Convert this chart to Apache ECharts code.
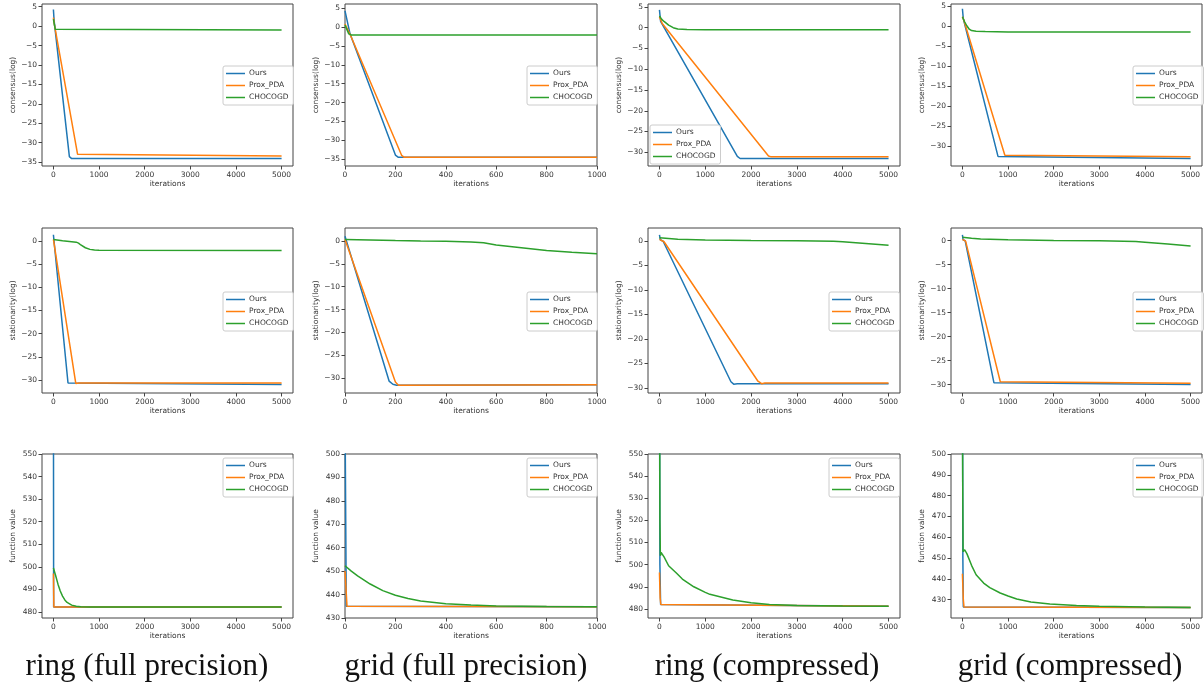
<!DOCTYPE html>
<html>
<head>
<meta charset="utf-8">
<script src="https://cdn.jsdelivr.net/npm/echarts@6/dist/echarts.min.js"></script>
<style>
html, body { margin: 0; padding: 0; background: #fff; }
#chart { width: 1204px; height: 685px; }
</style>
</head>
<body>
<div id="chart"></div>
<script>
// names of the three methods
var methods = ['Ours', 'Prox_PDA', 'CHOCOGD'];
var colors = ['#1f77b4', '#ff7f0e', '#2ca02c'];
var captions = ['ring (full precision)', 'grid (full precision)', 'ring (compressed)', 'grid (compressed)'];

// tick labels
var xTicksLong = [0, 1000, 2000, 3000, 4000, 5000];
var xTicksShort = [0, 200, 400, 600, 800, 1000];
var consTicks35 = [5, 0, -5, -10, -15, -20, -25, -30, -35];
var consTicks30 = [5, 0, -5, -10, -15, -20, -25, -30];
var statTicks = [0, -5, -10, -15, -20, -25, -30];
var fvTicks550 = [480, 490, 500, 510, 520, 530, 540, 550];
var fvTicks500 = [430, 440, 450, 460, 470, 480, 490, 500];

/* consensus(log) - [iteration, value] */
var ringFullConsOurs = [[0, 4.3], [15, 1.5], [350, -33.6], [370, -34.0], [400, -34.1], [5000, -34.1]];
var ringFullConsProx = [[0, 2.2], [20, 0.5], [530, -33.0], [560, -33.4], [5000, -33.4]];
var ringFullConsChoco = [[0, 1.8], [40, -0.8], [60, -1.0], [5000, -1.0]];

var gridFullConsOurs = [[0, 4.3], [20, -1.8], [200, -33.9], [212, -34.5], [1000, -34.5]];
var gridFullConsProx = [[0, 0.8], [20, -1.9], [225, -34.0], [235, -34.5], [1000, -34.5]];
var gridFullConsChoco = [[0, 0.5], [15, -1.8], [25, -2.1], [1000, -2.1]];

var ringCompConsOurs = [[0, 4.3], [25, 1.5], [1700, -31.0], [1760, -31.5], [5000, -31.5]];
var ringCompConsProx = [[0, 2.6], [60, 1.0], [2380, -30.9], [2440, -31.1], [5000, -31.1]];
var ringCompConsChoco = [[0, 2.8], [50, 2.0], [100, 1.5], [200, 0.6], [300, 0.0], [400, -0.3], [600, -0.45], [1000, -0.5], [5000, -0.5]];

var gridCompConsOurs = [[0, 4.3], [20, 1.8], [780, -32.6], [810, -33.1], [5000, -33.1]];
var gridCompConsProx = [[0, 2.3], [30, 1.5], [930, -32.3], [960, -32.7], [5000, -32.7]];
var gridCompConsChoco = [[0, 2.3], [50, 1.0], [100, 0.0], [150, -0.8], [200, -1.15], [300, -1.3], [500, -1.4], [1000, -1.5], [5000, -1.5]];

/* stationarity(log) */
var ringFullStatOurs = [[0, 1.3], [320, -30.6], [340, -30.9], [5000, -30.9]];
var ringFullStatProx = [[0, 0.3], [490, -30.7], [510, -30.9], [560, -30.6], [5000, -30.6]];
var ringFullStatChoco = [[0, 0.3], [200, 0.0], [500, -0.3], [550, -0.5], [600, -0.9], [700, -1.5], [800, -1.85], [900, -2.0], [1000, -2.05], [5000, -2.1]];

var gridFullStatOurs = [[0, 1.0], [175, -30.6], [190, -31.3], [205, -31.5], [1000, -31.4]];
var gridFullStatProx = [[0, 0.3], [200, -30.8], [212, -31.5], [1000, -31.4]];
var gridFullStatChoco = [[0, 0.3], [100, 0.2], [200, 0.05], [300, -0.05], [400, -0.1], [500, -0.25], [550, -0.4], [600, -0.9], [700, -1.5], [800, -2.1], [900, -2.5], [1000, -2.8]];

var ringCompStatOurs = [[0, 1.2], [20, 0.2], [40, 0.0], [80, -0.1], [1560, -28.7], [1620, -29.2], [1700, -29.1], [5000, -29.1]];
var ringCompStatProx = [[0, 0.3], [20, -0.1], [100, -0.2], [2150, -28.6], [2230, -29.1], [2300, -28.95], [5000, -28.95]];
var ringCompStatChoco = [[0, 0.6], [200, 0.45], [400, 0.3], [1000, 0.15], [2000, 0.05], [3000, 0.0], [3800, -0.1], [4000, -0.2], [4500, -0.55], [5000, -0.9]];

var gridCompStatOurs = [[0, 1.2], [15, 0.2], [60, 0.0], [690, -29.6], [720, -30.0], [5000, -30.0]];
var gridCompStatProx = [[0, 0.3], [20, 0.0], [70, -0.1], [830, -29.4], [860, -29.7], [5000, -29.7]];
var gridCompStatChoco = [[0, 0.7], [200, 0.5], [400, 0.35], [1000, 0.2], [2000, 0.05], [3000, 0.0], [3800, -0.15], [4000, -0.3], [4500, -0.7], [5000, -1.1]];

/* function value */
var ringFullFvOurs = [[0, 600], [5, 482.2], [5000, 482.2]];
var ringFullFvProx = [[0, 497], [10, 482.2], [5000, 482.2]];
var ringFullFvChoco = [[0, 499.5], [50, 496], [100, 492.3], [150, 489.3], [200, 487], [250, 485.3], [300, 484.2], [400, 483], [500, 482.5], [600, 482.3], [800, 482.2], [5000, 482.2]];

var gridFullFvOurs = [[0, 520], [5, 435], [1000, 434.8]];
var gridFullFvProx = [[0, 450], [8, 435], [1000, 434.8]];
var gridFullFvChoco = [[0, 452.3], [25, 450], [50, 448], [100, 444.5], [150, 441.7], [200, 439.7], [250, 438.3], [300, 437.3], [400, 436.1], [500, 435.5], [600, 435.1], [800, 434.9], [1000, 434.8]];

var ringCompFvOurs = [[0, 600], [10, 500], [25, 482], [40, 481.2], [5000, 481.2]];
var ringCompFvProx = [[0, 496.5], [15, 485], [30, 482], [60, 481.3], [5000, 481.2]];
var ringCompFvChoco = [[0, 600], [10, 520], [20, 504], [35, 505.5], [60, 505.2], [100, 503.5], [200, 499.5], [380, 496], [500, 493.5], [750, 490], [1000, 487.5], [1100, 486.6], [1600, 484], [2000, 482.8], [2400, 482], [3000, 481.5], [4000, 481.3], [5000, 481.2]];

var gridCompFvOurs = [[0, 560], [10, 450], [20, 426.5], [30, 426.2], [5000, 426.2]];
var gridCompFvProx = [[0, 442.5], [20, 430], [35, 426.5], [60, 426.2], [5000, 426.2]];
var gridCompFvChoco = [[0, 520], [8, 480], [15, 453], [30, 453.8], [50, 454], [100, 452], [200, 446.5], [300, 442], [465, 438], [600, 435.8], [828, 433.2], [1000, 431.8], [1190, 430.3], [1500, 428.9], [1916, 427.9], [2500, 427.2], [3000, 426.8], [4000, 426.5], [5000, 426.3]];

// layout of the 4x3 panel grid (pixels)
var colLeft = [42, 345, 648, 951];
var colWidth = [251, 252, 252, 251];
var rowTop = [4, 228, 454];
var rowHeight = [162, 165, 164];
var captionX = [147, 466, 767, 1070];

var panels = [
  { r: 0, c: 0, yMin: -36, yMax: 5.7, ticks: consTicks35, name: 'consensus(log)', lines: [ringFullConsOurs, ringFullConsProx, ringFullConsChoco], leg: [223, 66] },
  { r: 0, c: 1, yMin: -36.8, yMax: 6.1, ticks: consTicks35, name: 'consensus(log)', lines: [gridFullConsOurs, gridFullConsProx, gridFullConsChoco], leg: [527, 66] },
  { r: 0, c: 2, yMin: -33.3, yMax: 5.7, ticks: consTicks30, name: 'consensus(log)', lines: [ringCompConsOurs, ringCompConsProx, ringCompConsChoco], leg: [650, 125] },
  { r: 0, c: 3, yMin: -35, yMax: 5.5, ticks: consTicks30, name: 'consensus(log)', lines: [gridCompConsOurs, gridCompConsProx, gridCompConsChoco], leg: [1133, 66] },
  { r: 1, c: 0, yMin: -32.75, yMax: 2.75, ticks: statTicks, name: 'stationarity(log)', lines: [ringFullStatOurs, ringFullStatProx, ringFullStatChoco], leg: [223, 292] },
  { r: 1, c: 1, yMin: -33.2, yMax: 2.8, ticks: statTicks, name: 'stationarity(log)', lines: [gridFullStatOurs, gridFullStatProx, gridFullStatChoco], leg: [527, 292] },
  { r: 1, c: 2, yMin: -31, yMax: 2.6, ticks: statTicks, name: 'stationarity(log)', lines: [ringCompStatOurs, ringCompStatProx, ringCompStatChoco], leg: [829, 292] },
  { r: 1, c: 3, yMin: -31.75, yMax: 2.65, ticks: statTicks, name: 'stationarity(log)', lines: [gridCompStatOurs, gridCompStatProx, gridCompStatChoco], leg: [1133, 292] },
  { r: 2, c: 0, yMin: 477.3, yMax: 550, ticks: fvTicks550, name: 'function value', lines: [ringFullFvOurs, ringFullFvProx, ringFullFvChoco], leg: [223, 458] },
  { r: 2, c: 1, yMin: 430, yMax: 500, ticks: fvTicks500, name: 'function value', lines: [gridFullFvOurs, gridFullFvProx, gridFullFvChoco], leg: [527, 458] },
  { r: 2, c: 2, yMin: 475.9, yMax: 550, ticks: fvTicks550, name: 'function value', lines: [ringCompFvOurs, ringCompFvProx, ringCompFvChoco], leg: [829, 458] },
  { r: 2, c: 3, yMin: 421.2, yMax: 500, ticks: fvTicks500, name: 'function value', lines: [gridCompFvOurs, gridCompFvProx, gridCompFvChoco], leg: [1133, 458] }
];

var txt = '#333';
var frame = '#444';
var fnt = 'DejaVu Sans';

function minus(v) { return String(v).replace('-', '\u2212'); }

var grids = [], xAxes = [], yAxes = [], series = [], legends = [], graphics = [];

panels.forEach(function (p, i) {
  var short = p.c === 1;
  grids.push({
    left: colLeft[p.c], top: rowTop[p.r], width: colWidth[p.c], height: rowHeight[p.r],
    show: true, borderColor: frame, borderWidth: 1, containLabel: false
  });
  var xt = short ? xTicksShort : xTicksLong;
  xAxes.push({
    type: 'value', gridIndex: i, position: 'bottom',
    min: short ? 0 : -250, max: short ? 1000 : 5250,
    name: 'iterations', nameLocation: 'middle', nameGap: 14,
    nameTextStyle: { color: txt, fontSize: 7.5, fontFamily: fnt },
    axisLine: { show: false, onZero: false },
    axisTick: { show: true, length: 3.5, inside: false, customValues: xt, lineStyle: { color: frame } },
    axisLabel: { customValues: xt, color: txt, fontSize: 7.5, fontFamily: fnt, margin: 5, formatter: minus, showMinLabel: true, showMaxLabel: true },
    splitLine: { show: false }
  });
  yAxes.push({
    type: 'value', gridIndex: i, position: 'left',
    min: p.yMin, max: p.yMax,
    name: p.name, nameLocation: 'middle', nameGap: 25,
    nameTextStyle: { color: txt, fontSize: 7.5, fontFamily: fnt },
    axisLine: { show: false, onZero: false },
    axisTick: { show: true, length: 3.5, customValues: p.ticks, lineStyle: { color: frame } },
    axisLabel: { customValues: p.ticks, color: txt, fontSize: 7.5, fontFamily: fnt, margin: 5, formatter: minus, showMinLabel: true, showMaxLabel: true },
    splitLine: { show: false }
  });
  p.lines.forEach(function (d, k) {
    series.push({
      type: 'line', name: methods[k], xAxisIndex: i, yAxisIndex: i,
      data: d, showSymbol: false, symbol: 'none', clip: true,
      lineStyle: { color: colors[k], width: 1.5 }, itemStyle: { color: colors[k] },
      z: 2 + k, silent: true
    });
  });
  legends.push({
    data: methods, orient: 'vertical', left: p.leg[0], top: p.leg[1],
    icon: 'rect', itemWidth: 19, itemHeight: 1.5, itemGap: 3,
    backgroundColor: 'rgba(255,255,255,0.85)', borderColor: '#ccc', borderWidth: 1, borderRadius: 2,
    padding: [3, 5, 3, 3],
    textStyle: { color: txt, fontSize: 7.5, fontFamily: fnt, lineHeight: 9, padding: [0, 0, 0, -1] },
    selectedMode: false
  });
});

captions.forEach(function (t, c) {
  graphics.push({
    type: 'text', x: captionX[c], y: 667,
    style: { text: t, font: '31px "Liberation Serif"', fill: '#111', textAlign: 'center', textVerticalAlign: 'middle' }
  });
});

var chart = echarts.init(document.getElementById('chart'), null, { renderer: 'canvas' });
chart.setOption({
  animation: false,
  backgroundColor: '#fff',
  grid: grids,
  xAxis: xAxes,
  yAxis: yAxes,
  legend: legends,
  series: series,
  graphic: graphics
});
</script>
</body>
</html>
